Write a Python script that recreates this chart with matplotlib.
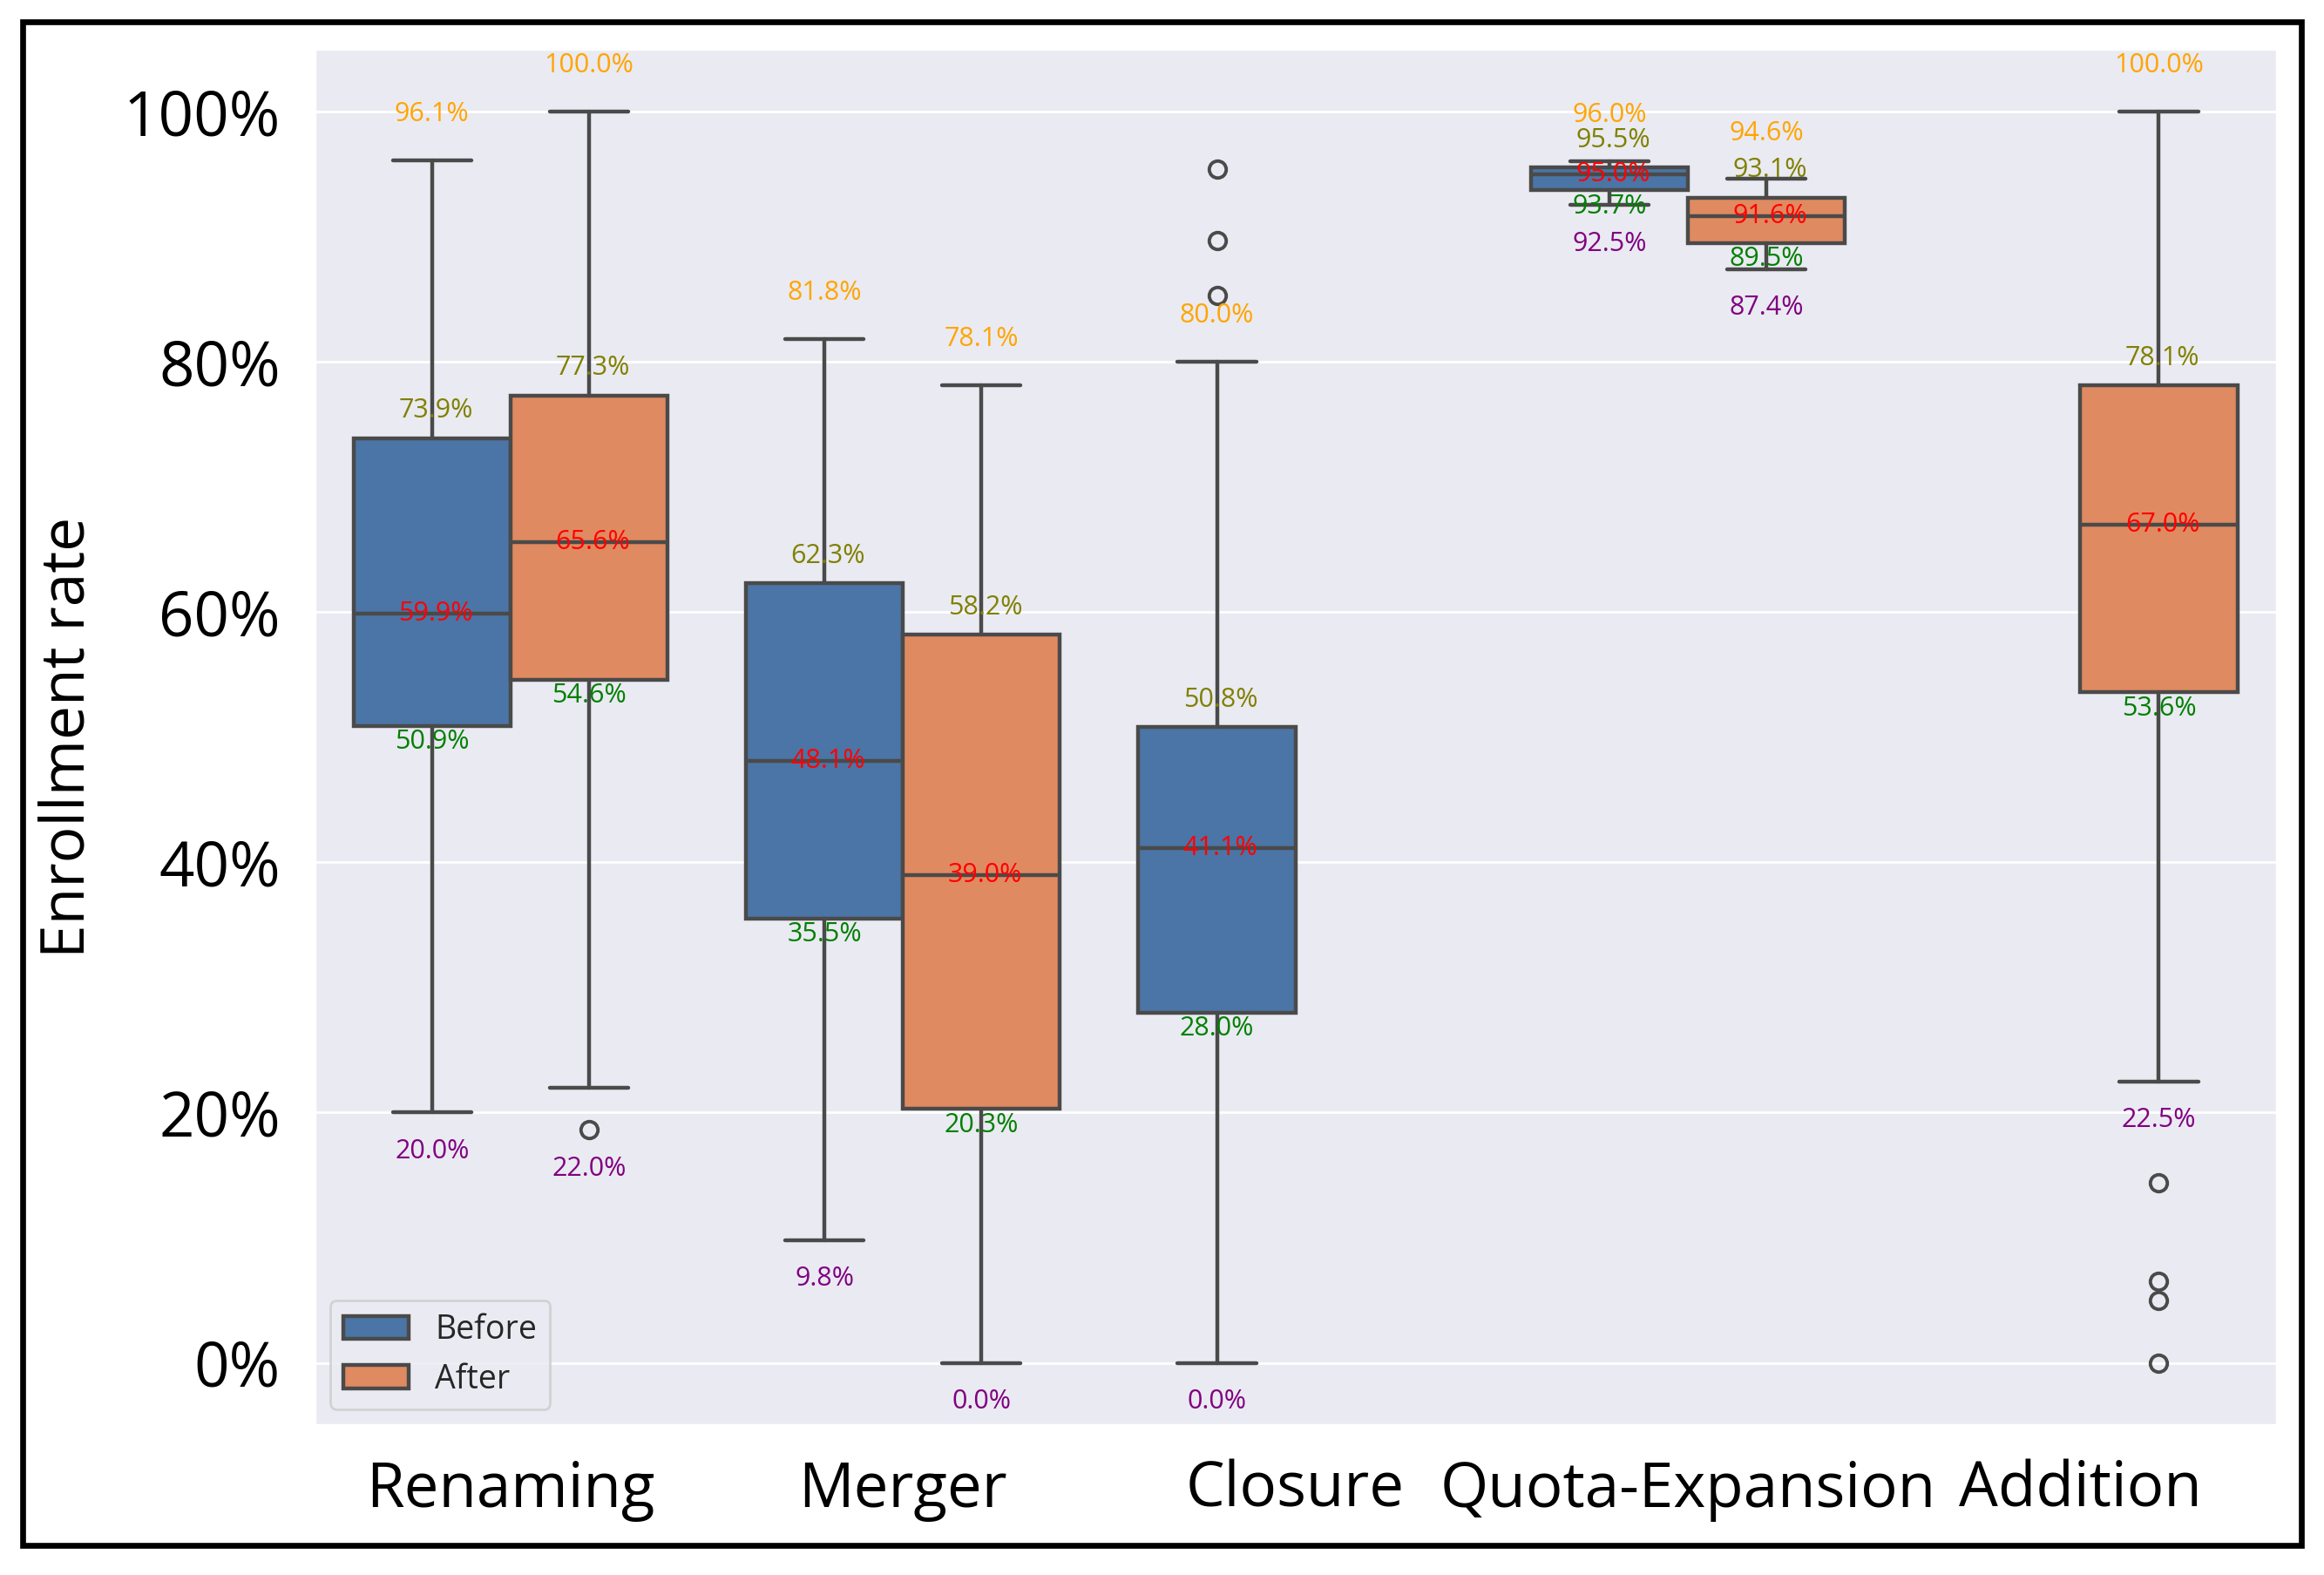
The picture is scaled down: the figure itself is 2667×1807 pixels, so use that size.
import matplotlib
matplotlib.use("Agg")
import matplotlib.pyplot as plt
import seaborn as sns
from matplotlib.patches import Patch, Rectangle
from matplotlib.ticker import PercentFormatter

# summary stats (fractions)
categories = ["Renaming", "Merger", "Closure", "Quota-Expansion", "Addition"]
groups = ["Before", "After"]

# category index -> whislo, q1, med, q3, whishi
before_stats = {
    0: [0.200, 0.509, 0.599, 0.739, 0.961],
    1: [0.098, 0.355, 0.481, 0.623, 0.818],
    2: [0.000, 0.280, 0.411, 0.508, 0.800],
    3: [0.925, 0.937, 0.950, 0.955, 0.960],
}
after_stats = {
    0: [0.220, 0.546, 0.656, 0.773, 1.000],
    1: [0.000, 0.203, 0.390, 0.582, 0.781],
    3: [0.874, 0.895, 0.916, 0.931, 0.946],
    4: [0.225, 0.536, 0.670, 0.781, 1.000],
}
before_fliers = {2: [0.954, 0.897, 0.853]}
after_fliers = {0: [0.186], 4: [0.144, 0.065, 0.050, 0.000]}

sns.set_theme(style="darkgrid")
plt.rcParams["font.family"] = ["Open Sans", "DejaVu Sans"]

colors = ["#4a75a6", "#e08a61"]
gray = "#4a4a4a"

fig = plt.figure(figsize=(13.335, 9.035), dpi=200)
ax = fig.add_axes([0.1352, 0.095, 0.8444, 0.874])

label_colors = ["purple", "green", "red", "olive", "orange"]
label_offsets = [-16, -6.7, 0, 11.3, 19]

for gi, (stats, fliers) in enumerate([(before_stats, before_fliers), (after_stats, after_fliers)]):
    offset = -0.2 if gi == 0 else 0.2
    bxps = []
    positions = []
    for ci, vals in stats.items():
        lo, q1, med, q3, hi = vals
        bxps.append(dict(whislo=lo, q1=q1, med=med, q3=q3, whishi=hi,
                         fliers=fliers.get(ci, [])))
        positions.append(ci + offset)
    ax.bxp(bxps, positions=positions, widths=0.4, patch_artist=True,
           boxprops=dict(facecolor=colors[gi], edgecolor=gray, linewidth=1.6),
           medianprops=dict(color=gray, linewidth=1.6),
           whiskerprops=dict(color=gray, linewidth=1.6),
           capprops=dict(color=gray, linewidth=1.6),
           flierprops=dict(marker="o", markerfacecolor="none", markeredgecolor=gray,
                           markersize=7, markeredgewidth=1.4),
           zorder=2)
    for ci, vals in stats.items():
        x = ci + offset
        # a flier sitting just under the lower whisker pushes its label down
        near = [f for f in fliers.get(ci, []) if vals[0] - 0.05 <= f < vals[0]]
        anchors = list(vals)
        if near:
            anchors[0] = min(near)
        for v, a, c, dy in zip(vals, anchors, label_colors, label_offsets):
            ax.annotate(f"{v * 100:.1f}%", (x, a), xytext=(1.5 if c in ("red", "olive") else 0, dy),
                        textcoords="offset points", ha="center", va="center",
                        color=c, fontsize=11, zorder=5)

ax.set_xlim(-0.5, 4.5)
ax.set_ylim(-0.05, 1.05)
ax.set_xticks(range(len(categories)))
ax.set_xticklabels(categories, fontsize=25.5, color="black")
ax.set_yticks([0, 0.2, 0.4, 0.6, 0.8, 1.0])
ax.yaxis.set_major_formatter(PercentFormatter(1.0, decimals=0))
ax.tick_params(axis="y", labelsize=25.5, pad=8, labelcolor="black")
ax.tick_params(axis="x", pad=8)
ax.grid(axis="x", visible=False)
ax.set_ylabel("Enrollment rate", fontsize=25, color="black", labelpad=10)

handles = [Patch(facecolor=colors[i], edgecolor=gray, linewidth=1.6, label=g) for i, g in enumerate(groups)]
ax.legend(handles=handles, loc="lower left", fontsize=13.5, frameon=True)

# black border around the whole figure
fig.patches.append(Rectangle((0.0096, 0.019), 0.9808, 0.967, transform=fig.transFigure,
                             fill=False, edgecolor="black", linewidth=2.4))

fig.savefig("out.png", dpi=200)
